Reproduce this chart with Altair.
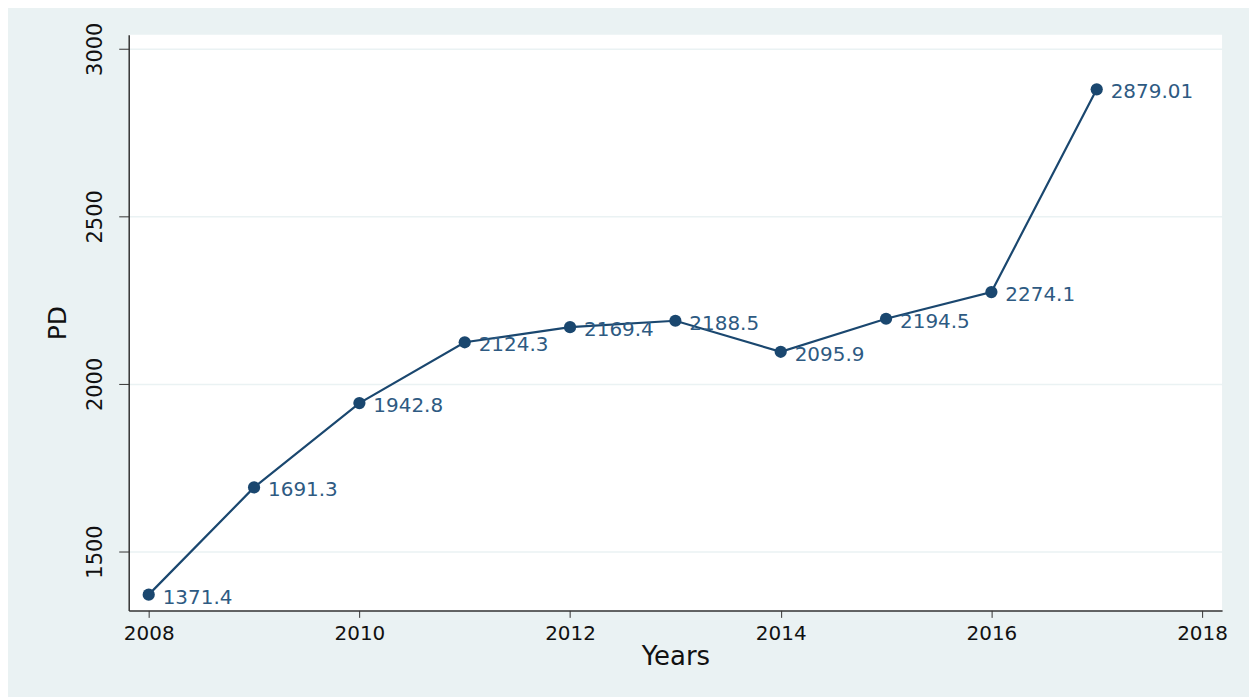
import altair as alt
import pandas as pd

years = [2008, 2009, 2010, 2011, 2012, 2013, 2014, 2015, 2016, 2017]
pd_values = [1371.4, 1691.3, 1942.8, 2124.3, 2169.4, 2188.5, 2095.9, 2194.5, 2274.1, 2879.01]
labels = ["1371.4", "1691.3", "1942.8", "2124.3", "2169.4", "2188.5", "2095.9", "2194.5", "2274.1", "2879.01"]
x_ticks = [2008, 2010, 2012, 2014, 2016, 2018]
y_ticks = [1500, 2000, 2500, 3000]

df = pd.DataFrame({"Years": years, "PD": pd_values, "label": labels})

navy = "#1a476f"
font = "DejaVu Sans"

x = alt.X("Years:Q", scale=alt.Scale(domain=[2007.81, 2018.19], nice=False, zero=False),
          axis=alt.Axis(values=x_ticks, format="d", title="Years", grid=False,
                        tickSize=7, tickColor="#333333", domainColor="#333333", domainWidth=1.5,
                        labelFontSize=20, labelColor="#111111", labelFont=font, labelPadding=6,
                        titleFontSize=26, titleFont=font, titleFontWeight="normal", titleColor="#111111",
                        titlePadding=0))
y = alt.Y("PD:Q", scale=alt.Scale(domain=[1324.4, 3041.7], nice=False, zero=False),
          axis=alt.Axis(values=y_ticks, format="d", title="PD", grid=True, gridColor="#eaf2f3", gridWidth=1.5,
                        tickSize=10, tickColor="#333333", domainColor="#333333", domainWidth=1.5,
                        labelAngle=270, labelAlign="center", labelBaseline="bottom",
                        labelFontSize=21, labelColor="#111111", labelFont=font, labelPadding=13,
                        titleFontSize=25, titleFont=font, titleFontWeight="normal", titleColor="#111111",
                        titlePadding=14))

base = alt.Chart(df).encode(x=x, y=y)
line = base.mark_line(color=navy, strokeWidth=2.2)
points = base.mark_circle(color=navy, size=150, opacity=1)
text = base.mark_text(align="left", baseline="middle", dx=14, dy=3, fontSize=20,
                      font=font, color="#2e5a82").encode(text="label:N")

chart = alt.layer(line, points, text).properties(
    width=1096, height=577,
    background="#eaf2f3",
    padding={"left": 121, "top": 26, "right": 27, "bottom": 97},
    autosize=alt.AutoSizeParams(type="none"),
).configure_view(fill="white", stroke=None)

chart.save("out.html", embed_options={"renderer": "svg", "actions": False})
